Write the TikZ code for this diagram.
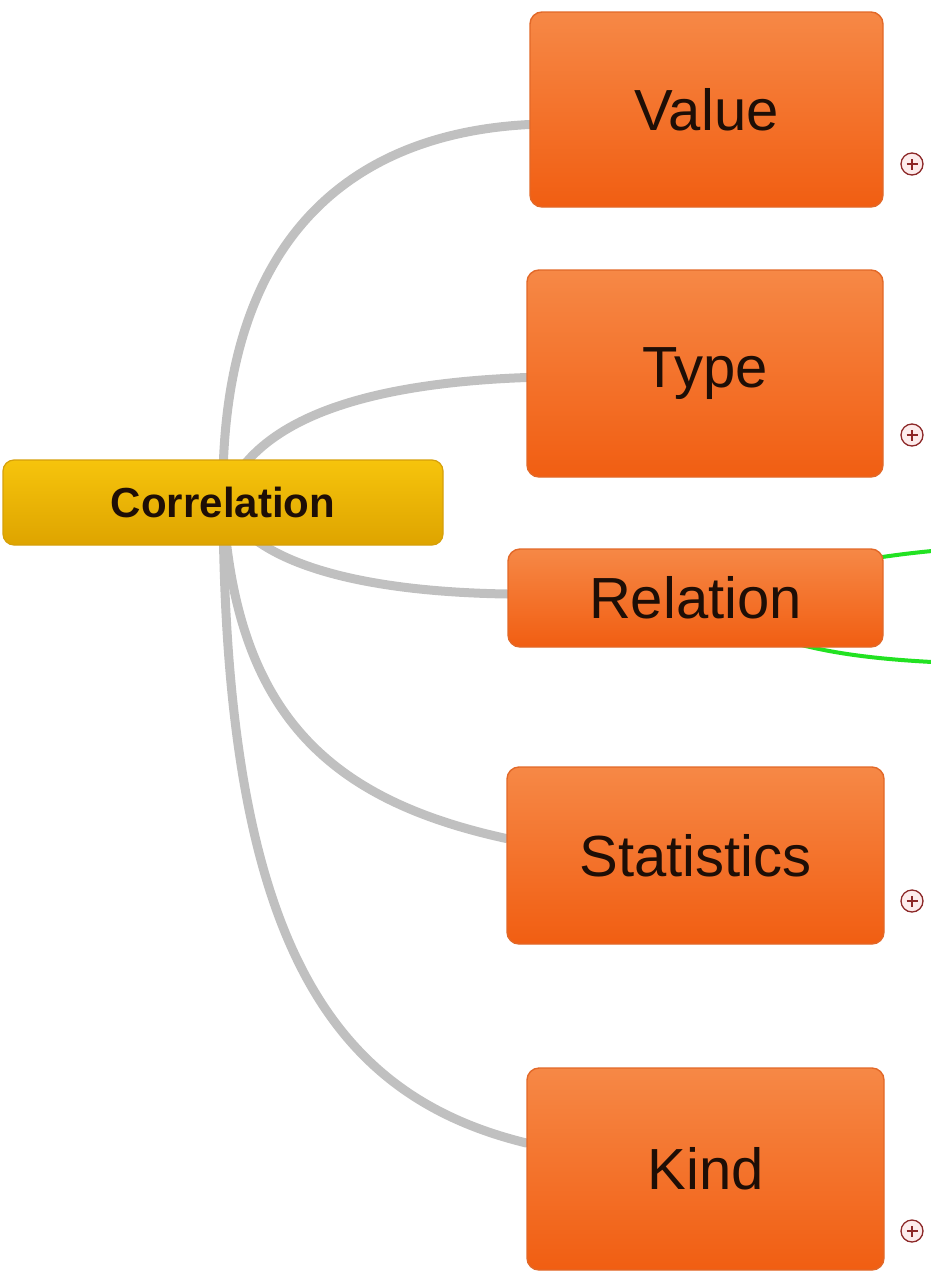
\documentclass[tikz,border=0pt]{standalone}
\usepackage{fontspec}
\setmainfont{Liberation Sans}
\usetikzlibrary{backgrounds}
\definecolor{linkgray}{RGB}{192,192,192}
\definecolor{orangetop}{RGB}{246,136,70}
\definecolor{orangebot}{RGB}{241,94,18}
\definecolor{orangeedge}{RGB}{226,104,40}
\definecolor{goldtop}{RGB}{246,196,12}
\definecolor{goldbot}{RGB}{222,164,0}
\definecolor{goldedge}{RGB}{214,160,10}
\definecolor{inkdark}{RGB}{30,14,6}
\definecolor{iconred}{RGB}{140,40,40}
\definecolor{iconfill}{RGB}{253,236,236}
\definecolor{linkgreen}{RGB}{34,226,34}
\tikzset{
  topic/.style={rectangle, rounded corners=12pt, draw=orangeedge, line width=1.4pt,
    top color=orangetop, bottom color=orangebot, text=inkdark,
    font=\fontsize{58}{60}\selectfont, inner sep=0pt},
  central/.style={rectangle, rounded corners=11pt, draw=goldedge, line width=1.2pt,
    top color=goldtop, bottom color=goldbot, text=inkdark,
    font=\fontsize{42}{44}\selectfont\bfseries, inner sep=0pt,
    minimum width=440pt, minimum height=85pt},
  branch/.style={draw=linkgray, line width=9pt, line cap=round},
  sublink/.style={draw=linkgreen, line width=4pt},
  expander/.style={circle, draw=iconred, fill=iconfill, line width=1.3pt,
    minimum size=22pt, inner sep=0pt,
    path picture={\draw[iconred, line width=1.4pt]
      ([xshift=-5.5pt]path picture bounding box.center) -- ([xshift=5.5pt]path picture bounding box.center)
      ([yshift=-5.5pt]path picture bounding box.center) -- ([yshift=5.5pt]path picture bounding box.center);}}
}
\begin{document}
\begin{tikzpicture}[x=1pt, y=-1pt]
\useasboundingbox (0,0) rectangle (930,1272);

% central idea
\node[central] (corr) at (223,502.5) {Correlation};

% main topics
\node[topic, minimum width=353pt, minimum height=195pt] (val)  at (706.5,109.5) {Value};
\node[topic, minimum width=356pt, minimum height=207pt] (typ)  at (705,373.5)  {Type};
\node[topic, minimum width=375pt, minimum height=98pt]  (rel)  at (695.5,598)  {Relation};
\node[topic, minimum width=377pt, minimum height=177pt] (stat) at (695.5,855.5) {Statistics};
\node[topic, minimum width=357pt, minimum height=202pt] (kind) at (705.5,1169) {Kind};

% collapsed-branch markers
\node[expander] (xval)  at (912,164)  {};
\node[expander] (xtyp)  at (912,435)  {};
\node[expander] (xstat) at (912,901)  {};
\node[expander] (xkind) at (912,1231) {};

% loose ends of the sub-branches of Relation
\coordinate (relA) at (932,551);
\coordinate (relB) at (932,662);

\begin{scope}[on background layer]
  \draw[branch] (corr.center) .. controls (218,210) and (380,132) .. ([yshift=-15pt]val.west);
  \draw[branch] (corr.center) .. controls (250,425) and (350,384) .. ([yshift=-4pt]typ.west);
  \draw[branch] (corr.center) .. controls (255,570) and (380,592) .. ([yshift=4pt]rel.west);
  \draw[branch] (corr.center) .. controls (235,715) and (330,800) .. ([yshift=17pt]stat.west);
  \draw[branch] (corr.center) .. controls (225,940) and (330,1095) .. ([yshift=26pt]kind.west);
  \draw[sublink] (rel.center) .. controls (820,565) and (880,556) .. (relA);
  \draw[sublink] (rel.center) .. controls (760,640) and (820,656) .. (relB);
\end{scope}
\end{tikzpicture}
\end{document}
